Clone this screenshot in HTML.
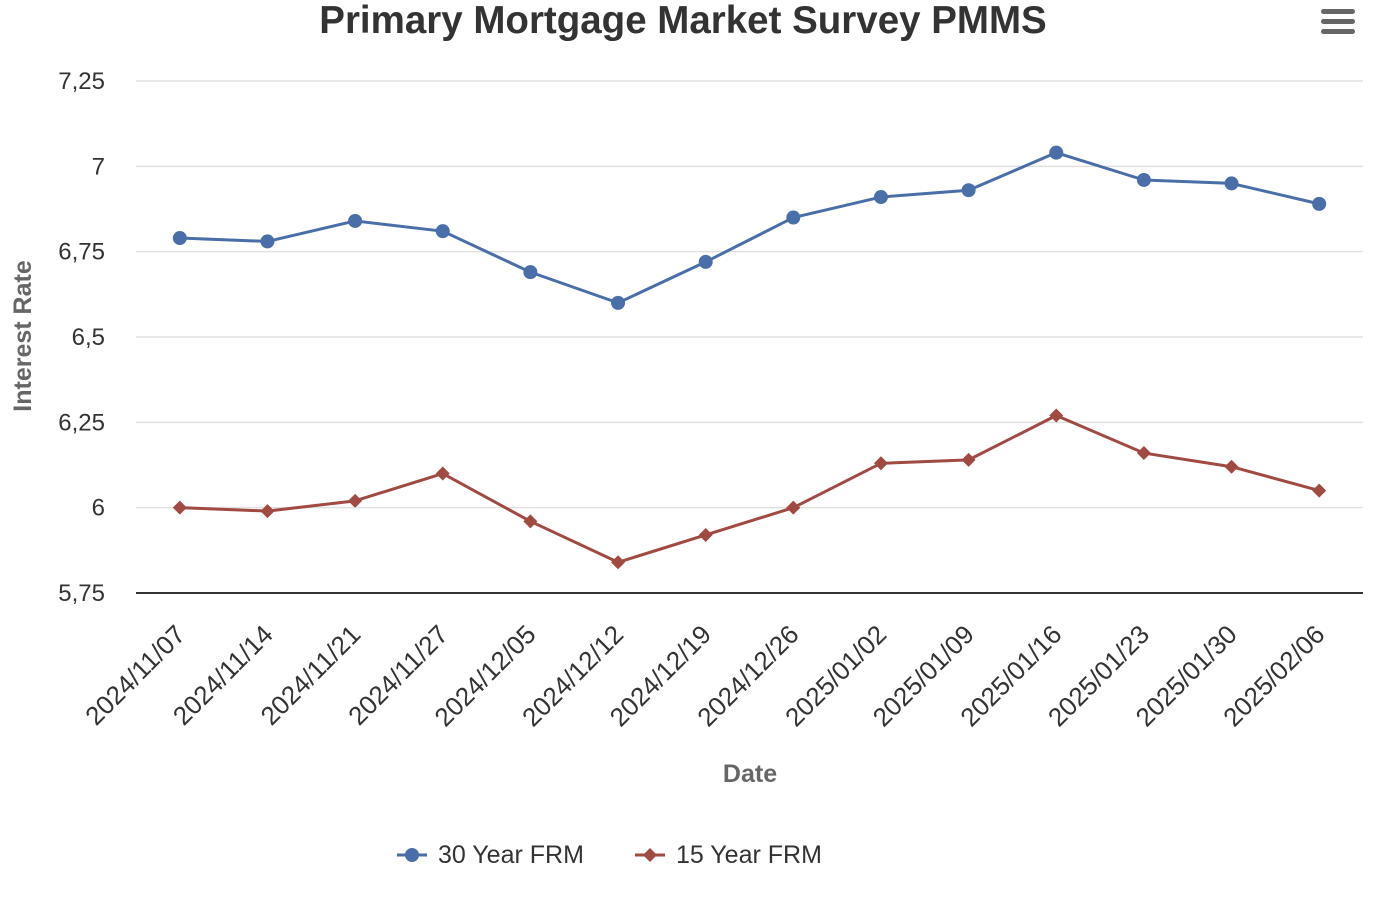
<!DOCTYPE html>
<html><head><meta charset="utf-8"><style>
html,body{margin:0;padding:0;background:#fff;}
svg{display:block;font-family:"Liberation Sans",Arial,sans-serif;}
</style></head><body>
<svg id="chart" width="1380" height="900" viewBox="0 0 1380 900">
<text x="683" y="33" text-anchor="middle" font-size="38.5" font-weight="bold" fill="#333">Primary Mortgage Market Survey PMMS</text>
<g fill="#666">
<rect x="1321" y="9" width="34" height="5" rx="2.5"/><rect x="1321" y="19" width="34" height="5" rx="2.5"/><rect x="1321" y="29" width="34" height="5" rx="2.5"/>
</g>
<g id="grid"></g><g id="yticks"></g><g id="xticks"></g><g id="series"></g>
<text transform="translate(31,336) rotate(-90)" text-anchor="middle" font-size="25" font-weight="bold" fill="#666">Interest Rate</text>
<text x="750" y="782" text-anchor="middle" font-size="25" font-weight="bold" fill="#666">Date</text>
<g>
<line x1="397" y1="855" x2="427" y2="855" stroke="#4a6ea8" stroke-width="3"/><circle cx="412" cy="855" r="7" fill="#4a6ea8"/>
<text x="438" y="863" font-size="25" fill="#333">30 Year FRM</text></g>
<g>
<line x1="635" y1="855" x2="665" y2="855" stroke="#a04a42" stroke-width="3"/><path d="M650 848 L657 855 L650 862 L643 855Z" fill="#a04a42"/>
<text x="676" y="863" font-size="25" fill="#333">15 Year FRM</text></g>
</svg>
<script>
const categories=["2024/11/07","2024/11/14","2024/11/21","2024/11/27","2024/12/05","2024/12/12","2024/12/19","2024/12/26","2025/01/02","2025/01/09","2025/01/16","2025/01/23","2025/01/30","2025/02/06"];
const frm30=[6.79,6.78,6.84,6.81,6.69,6.60,6.72,6.85,6.91,6.93,7.04,6.96,6.95,6.89];
const frm15=[6.00,5.99,6.02,6.10,5.96,5.84,5.92,6.00,6.13,6.14,6.27,6.16,6.12,6.05];
const yTicks=[5.75,6,6.25,6.5,6.75,7,7.25];
const yTickLabels=["5,75","6","6,25","6,5","6,75","7","7,25"];
const NS="http://www.w3.org/2000/svg";
const L=136,R=1363,T=81,B=593,yMin=5.75,yMax=7.25;
const y=v=>B-(v-yMin)/(yMax-yMin)*(B-T);
const bw=(R-L)/categories.length;
const x=i=>L+bw*(i+0.5);
function mk(tag,attrs,parent){const e=document.createElementNS(NS,tag);for(const k in attrs)e.setAttribute(k,attrs[k]);parent.appendChild(e);return e;}
const grid=document.getElementById('grid'),yt=document.getElementById('yticks'),xt=document.getElementById('xticks'),ser=document.getElementById('series');
yTicks.forEach((v,i)=>{
  const ln=mk('line',{x1:L,x2:R,y1:y(v),y2:y(v),stroke:i===0?'#333':'#e0e0e0','stroke-width':i===0?2:1.5},grid);
  
  
  const t=mk('text',{x:105,y:y(v)+8,'text-anchor':'end','font-size':24,fill:'#333'},yt);
  t.textContent=yTickLabels[i];
  
  
});
categories.forEach((c,i)=>{
  const t=mk('text',{transform:`translate(${x(i)+7},${636}) rotate(-45)`,'text-anchor':'end','font-size':26,fill:'#333'},xt);
  t.textContent=c;
  
  
});
function drawSeries(vals,color,marker,name){
  const g=mk('g',{},ser);
  
  
  const p=mk('polyline',{points:vals.map((v,i)=>x(i)+','+y(v)).join(' '),fill:'none',stroke:color,'stroke-width':3,'stroke-linejoin':'round'},g);
  
  
  vals.forEach((v,i)=>{
    let m;
    if(marker==='circle')m=mk('circle',{cx:x(i),cy:y(v),r:7,fill:color},g);
    else m=mk('path',{d:`M${x(i)} ${y(v)-7}L${x(i)+7} ${y(v)}L${x(i)} ${y(v)+7}L${x(i)-7} ${y(v)}Z`,fill:color},g);
    
    
  });
}
drawSeries(frm30,'#4a6ea8','circle','series-30yr');
drawSeries(frm15,'#a04a42','diamond','series-15yr');
</script>
</body></html>
